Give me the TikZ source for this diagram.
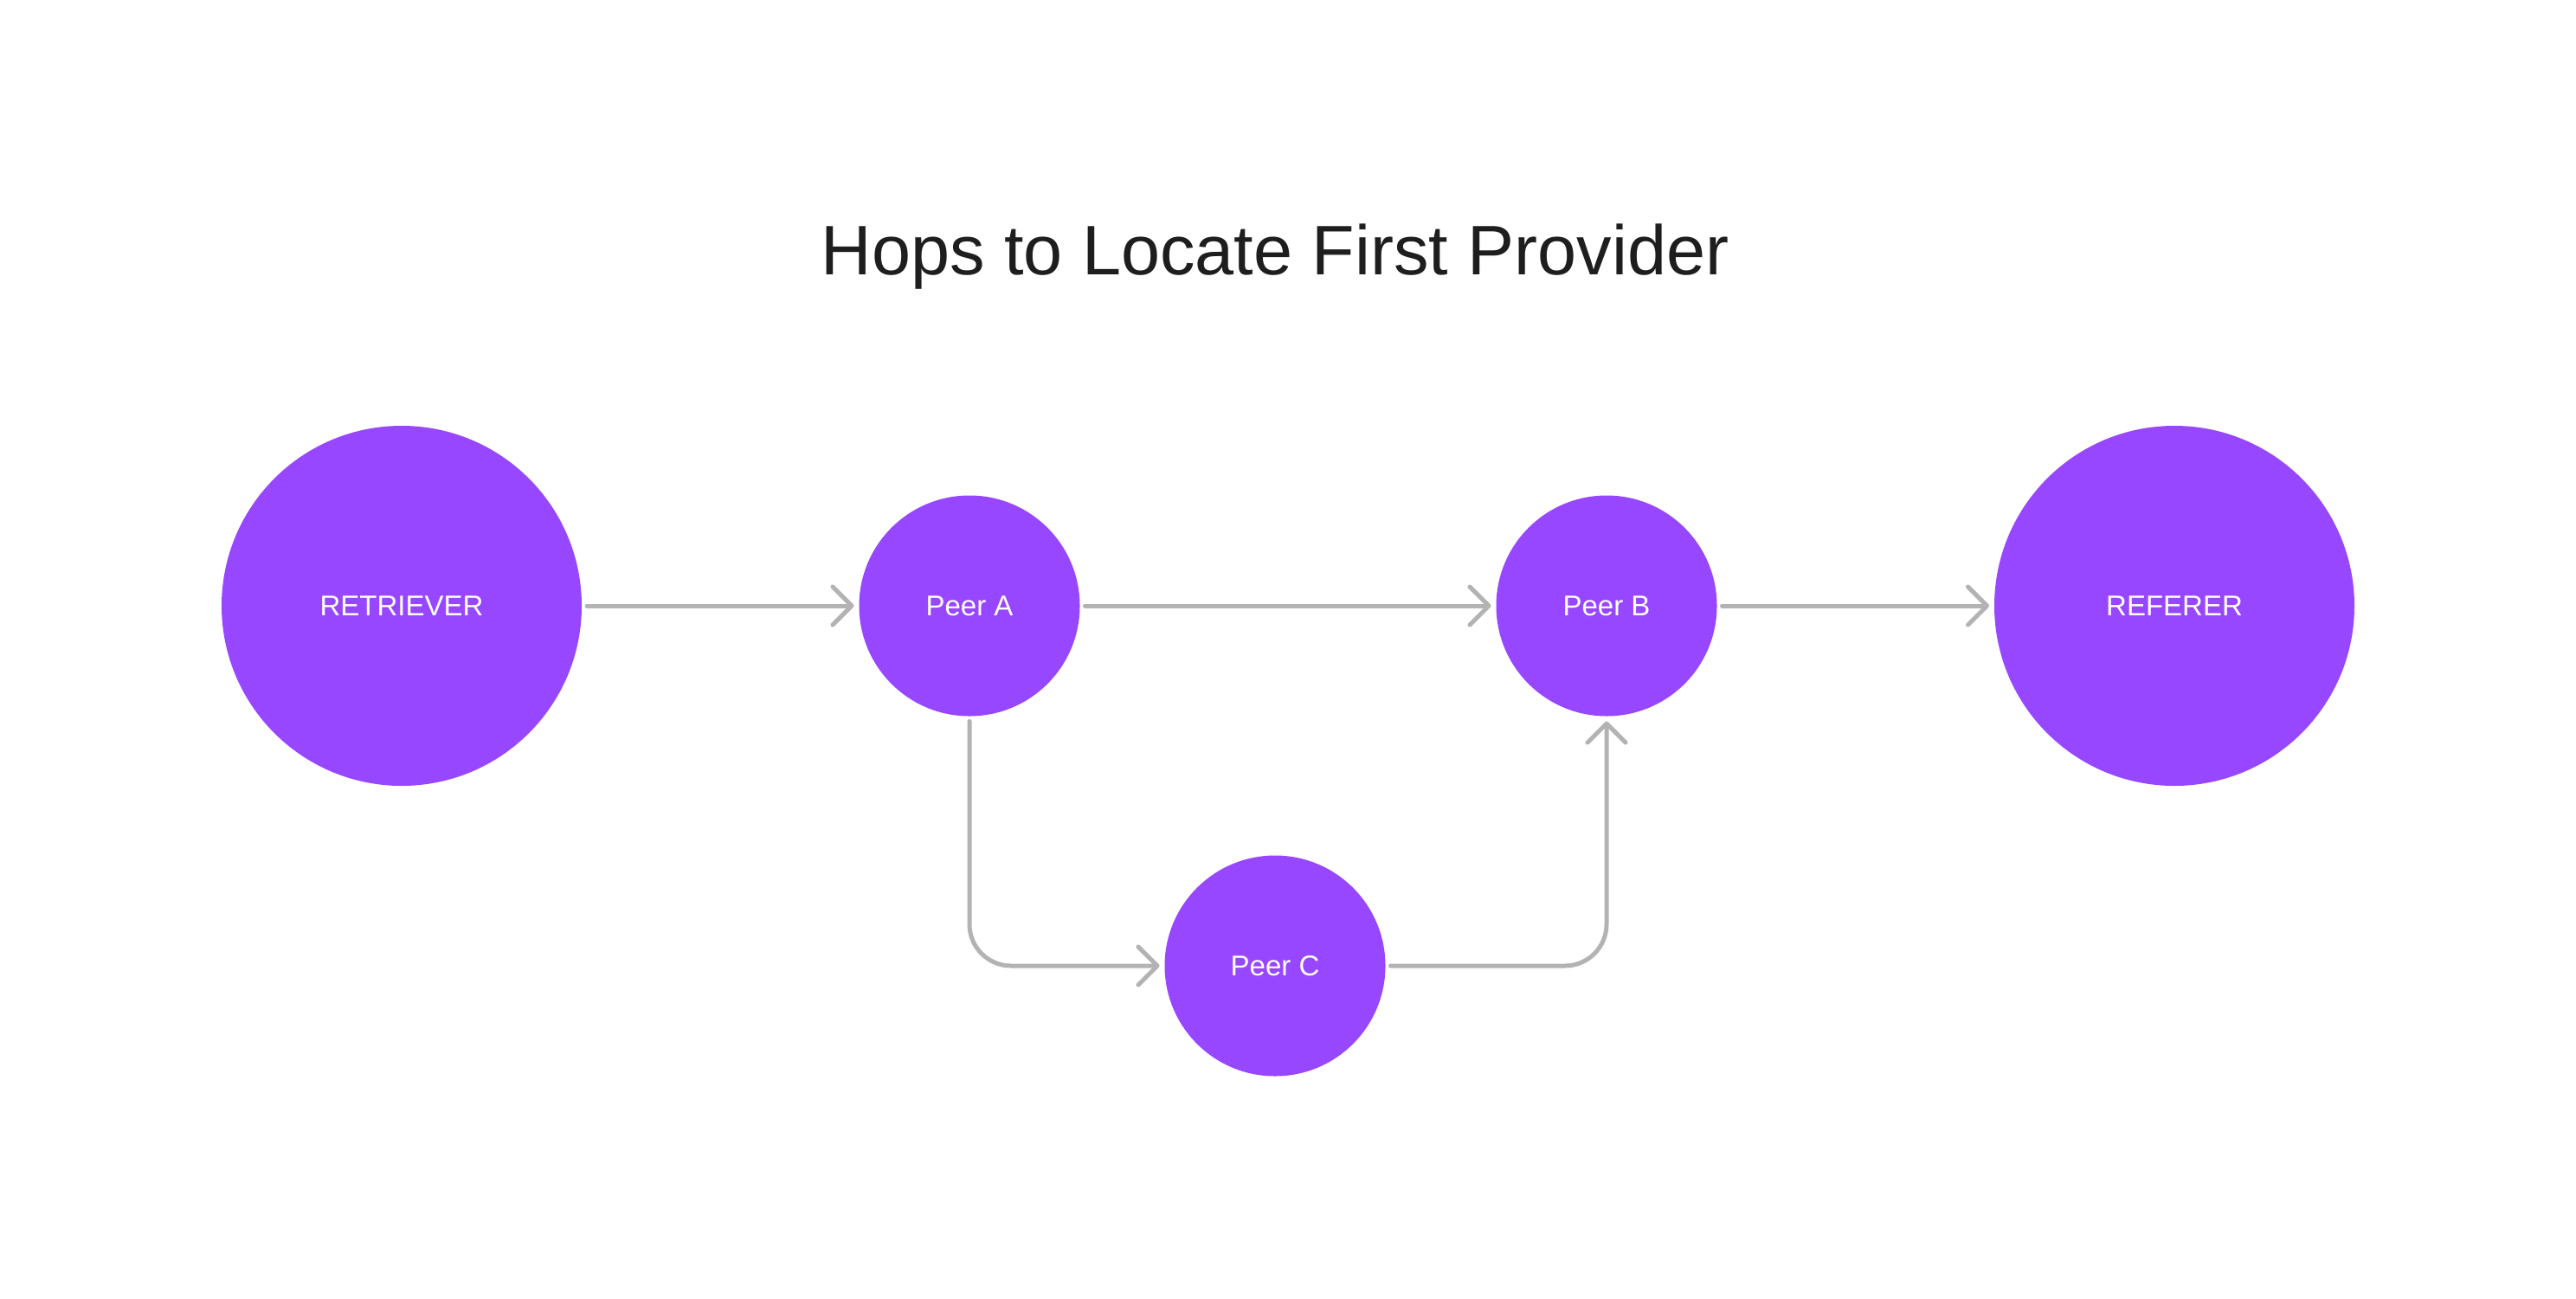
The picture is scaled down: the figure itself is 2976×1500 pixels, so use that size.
\documentclass[tikz,border=0pt]{standalone}
\usepackage{fontspec}
\setmainfont{Liberation Sans}
\usetikzlibrary{arrows.meta}
\definecolor{peerpurple}{HTML}{9747FF}
\definecolor{edgegray}{HTML}{B3B3B3}
\definecolor{titleink}{HTML}{1E1E1E}
\begin{document}
\begin{tikzpicture}[x=0.5pt,y=-0.5pt,
  bignode/.style={circle, fill=peerpurple, minimum size=208pt, inner sep=0pt, outer sep=3pt, text=white, font=\fontsize{16.5}{20}\selectfont},
  peernode/.style={bignode, minimum size=127.5pt},
  hop/.style={draw=edgegray, line width=2.5pt, line cap=round, line join=round, rounded corners=24pt,
    -{Straight Barb[length=11pt,width=22pt,line cap=round,line join=round]}}]
\useasboundingbox (0,0) rectangle (2976,1500);
\fill[white] (0,0) rectangle (2976,1500);
\node[anchor=base, font=\fontsize{40.5}{48}\selectfont, text=titleink, inner sep=0pt] (title) at (1473,317) {Hops to Locate First Provider};
\node[bignode] (ret) at (464,700) {RETRIEVER};
\node[peernode] (pa) at (1120,700) {Peer A};
\node[peernode] (pb) at (1856,700) {Peer B};
\node[peernode] (pc) at (1473,1116) {Peer C};
\node[bignode] (ref) at (2512,700) {REFERER};
\draw[hop] (ret) -- (pa);
\draw[hop] (pa) -- (pb);
\draw[hop] (pb) -- (ref);
\draw[hop] (pa.south) |- (pc.west);
\draw[hop] (pc.east) -| (pb.south);
\end{tikzpicture}
\end{document}
